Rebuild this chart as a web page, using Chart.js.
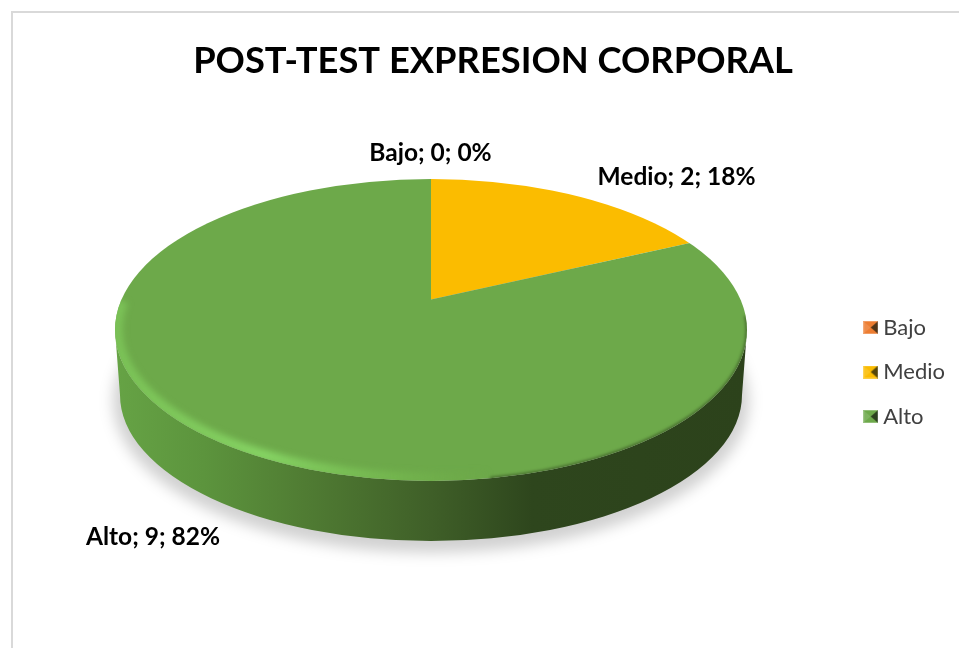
<!DOCTYPE html>
<html><head><meta charset="utf-8">
<style>
html,body{margin:0;padding:0;background:#fff;overflow:hidden;width:959px;height:648px}
#frame{position:absolute;left:11px;top:11px;width:960px;height:660px;border:2px solid #d9d9d9;background:#fff}
canvas{display:block}
</style>
<script src="https://cdn.jsdelivr.net/npm/chart.js@4"></script>
</head><body>
<div id="frame"><canvas id="c" width="960" height="635"></canvas></div>
<script>
const categories = ["Bajo", "Medio", "Alto"];
const values = [0, 2, 9];
const percents = [0, 18, 82];
const sliceColors = ["#ED7D31", "#FBBC00", "#6DA94A"];
const titleText = "POST-TEST EXPRESION CORPORAL";

// geometry of the tilted pie, in canvas pixels
const apex = {x: 418, y: 286.5};
const face = {x: 418, y: 317, rx: 316, ry: 151};
const base = {x: 418, y: 382, rx: 311, ry: 146};
const labelAnchors = [{x: 417.5, y: 140}, {x: 663.5, y: 164}, {x: 140, y: 524}];
const fontName = "Lato, 'Open Sans', sans-serif";

function marker(color) {
  const m = document.createElement('canvas');
  m.width = 15; m.height = 13;
  const g = m.getContext('2d');
  g.fillStyle = color; g.fillRect(0, 0, 15, 13);
  g.fillStyle = 'rgba(255,255,255,.12)';
  g.beginPath(); g.moveTo(0,0); g.lineTo(7.5,6.5); g.lineTo(0,13); g.fill();
  g.fillStyle = 'rgba(20,25,15,.72)';
  g.beginPath(); g.moveTo(15,0); g.lineTo(7.5,6.5); g.lineTo(15,13); g.fill();
  g.strokeStyle = 'rgba(255,255,255,.25)'; g.strokeRect(.5,.5,14,12);
  return m;
}
const markers = sliceColors.map(marker);

function hull(ctx) {
  ctx.beginPath();
  ctx.ellipse(face.x, face.y, face.rx, face.ry, 0, Math.PI, 0, true);
  ctx.lineTo(base.x + base.rx, base.y);
  ctx.ellipse(base.x, base.y, base.rx, base.ry, 0, 0, Math.PI);
  ctx.closePath();
}

const pie3d = {
  id: 'pie3d',
  beforeDatasetsDraw(chart) {
    const ctx = chart.ctx;
    const arc = chart.getDatasetMeta(0).data[2];
    // soft shadow
    ctx.save();
    ctx.filter = 'blur(7px)';
    ctx.fillStyle = 'rgba(0,0,0,.18)';
    ctx.beginPath();
    ctx.ellipse(base.x, base.y + 6, base.rx + 7, base.ry + 6, 0, 0, Math.PI * 2);
    ctx.fill();
    ctx.restore();
    // side wall
    const g = ctx.createLinearGradient(face.x - face.rx, 0, face.x + face.rx, 0);
    g.addColorStop(0, '#66A345');
    g.addColorStop(0.14, '#5C943D');
    g.addColorStop(0.30, '#507C33');
    g.addColorStop(0.50, '#3F5F28');
    g.addColorStop(0.66, '#2E461D');
    g.addColorStop(1, '#2C421B');
    ctx.save();
    ctx.fillStyle = g;
    hull(ctx);
    ctx.fill();
    ctx.restore();
    // top face: slices seen through the tilted outline
    ctx.save();
    ctx.beginPath();
    ctx.ellipse(face.x, face.y, face.rx, face.ry, 0, 0, Math.PI * 2);
    ctx.clip();
    const sx = 1.25 * face.rx / arc.outerRadius;
    const sy = sx * face.ry / face.rx;
    ctx.translate(apex.x, apex.y);
    ctx.scale(sx, sy);
    ctx.translate(-arc.x, -arc.y);
  },
  afterDatasetsDraw(chart) {
    const ctx = chart.ctx;
    ctx.restore();
    // bevel highlight along the lower left rim
    ctx.save();
    ctx.beginPath();
    ctx.ellipse(face.x, face.y, face.rx, face.ry, 0, 0, Math.PI * 2);
    ctx.clip();
    const g = ctx.createLinearGradient(face.x - face.rx, 0, face.x + 60, 0);
    g.addColorStop(0, 'rgba(124,196,88,.9)');
    g.addColorStop(0.4, 'rgba(134,212,100,1)');
    g.addColorStop(0.75, 'rgba(118,186,80,.7)');
    g.addColorStop(1, 'rgba(112,173,71,0)');
    ctx.filter = 'blur(3px)';
    ctx.strokeStyle = g;
    ctx.lineWidth = 11;
    ctx.beginPath();
    ctx.ellipse(face.x, face.y - 1, face.rx - 2, face.ry - 2, 0, Math.PI * 1.06, Math.PI * 0.42, true);
    ctx.stroke();
    ctx.restore();
    // dark feather on the right rim
    ctx.save();
    ctx.beginPath();
    ctx.ellipse(face.x, face.y, face.rx, face.ry, 0, 0, Math.PI * 2);
    ctx.clip();
    ctx.filter = 'blur(1.5px)';
    ctx.strokeStyle = 'rgba(44,66,27,.7)';
    ctx.lineWidth = 2.5;
    ctx.beginPath();
    ctx.ellipse(face.x, face.y, face.rx, face.ry, 0, Math.PI * 0.44, -Math.PI * 0.03, true);
    ctx.stroke();
    ctx.restore();
    // data labels
    ctx.save();
    ctx.font = "bold 24.5px " + fontName;
    ctx.fillStyle = '#000';
    ctx.textAlign = 'center';
    ctx.textBaseline = 'middle';
    categories.forEach((c, i) => {
      ctx.fillText(c + '; ' + values[i] + '; ' + percents[i] + '%', labelAnchors[i].x, labelAnchors[i].y);
    });
    ctx.restore();
  }
};

new Chart(document.getElementById('c'), {
  type: 'pie',
  data: {
    labels: categories,
    datasets: [{data: values, backgroundColor: sliceColors, borderWidth: 0, clip: false}]
  },
  options: {
    responsive: false,
    animation: false,
    layout: {padding: {left: 18, right: 18, top: 0, bottom: 198}},
    plugins: {
      tooltip: {enabled: false},
      title: {
        display: true,
        text: titleText,
        color: '#000',
        font: {family: fontName, size: 36.3, weight: 'bold'},
        padding: {top: 27, bottom: 20}
      },
      legend: {
        position: 'right',
        align: 'end',
        labels: {
          usePointStyle: true,
          boxWidth: 3,
          boxHeight: 13,
          padding: 22.5,
          color: '#404040',
          font: {family: fontName, size: 22},
          generateLabels(chart) {
            return Chart.overrides.pie.plugins.legend.labels.generateLabels(chart).map((it, i) => {
              it.pointStyle = markers[i];
              return it;
            });
          }
        }
      }
    }
  },
  plugins: [pie3d]
});
</script>
</body></html>
